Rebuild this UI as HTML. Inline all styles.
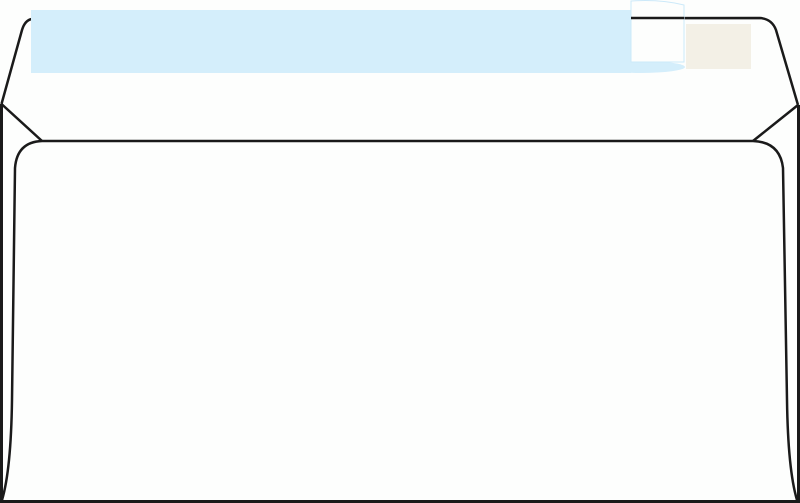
<!DOCTYPE html>
<html><head><meta charset="utf-8"><style>html,body{margin:0;padding:0;background:#fdfefd;}svg{display:block}</style></head>
<body>
<svg width="800" height="503" viewBox="0 0 800 503" xmlns="http://www.w3.org/2000/svg">
<rect width="800" height="503" fill="#fdfefd"/>
<!-- outer -->
<path d="M1.5,104 L1.5,501.5 L798.5,501.5 L798.5,105" fill="none" stroke="#1a1a1a" stroke-width="3"/>
<!-- flap -->
<path d="M1.5,104 L22,30 Q25,20 32,19 L760,18 Q772,19 776,30 L798,105" fill="none" stroke="#1a1a1a" stroke-width="2.5"/>
<!-- diagonals -->
<path d="M1.5,104 L42,141 M798,105 L753,141" fill="none" stroke="#1a1a1a" stroke-width="2.5"/>
<!-- pocket -->
<path d="M2,500 Q11,470 12,400 L15,168 Q17,142 42,141 L753,141 Q780,142 783,168 L787,400 Q788,470 797,500" fill="none" stroke="#1a1a1a" stroke-width="2.5"/>
<!-- blue strip -->
<rect x="31" y="10" width="600" height="63" fill="#d4eefb"/>
<ellipse cx="640" cy="67" rx="45" ry="6" fill="#d4eefb"/>
<!-- tab -->
<path d="M631,1 Q660,-1 684,5 L684,62 L631,62 Z" fill="#fdfefd" stroke="#cce9f9" stroke-width="1"/>
<line x1="631" y1="18" x2="684" y2="18" stroke="#1a1a1a" stroke-width="2.5"/>
<!-- beige -->
<rect x="686" y="24" width="65" height="45" fill="#f3f0e6"/>
</svg>
</body></html>
